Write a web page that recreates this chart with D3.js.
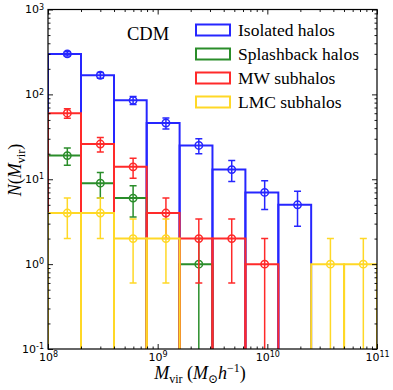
<!DOCTYPE html>
<html>
<head>
<meta charset="utf-8">
<script src="https://cdn.jsdelivr.net/npm/d3@7"></script>
<style>
  body { margin: 0; background: #fff; }
  .serif { font-family: "Liberation Serif", "DejaVu Serif", serif; }
  .tick text { font-family: "DejaVu Sans", sans-serif; }
</style>
</head>
<body>
<div id="chart"></div>
<script>
// bin edges in M_vir, 0.3 dex apart
var binEdges = [1e8, 2e8, 4e8, 7.94e8, 1.585e9, 3.16e9, 6.31e9, 1.26e10, 2.51e10, 5.01e10, 1e11];

// counts per bin
var isolated   = [300, 168, 85, 46, 25, 13, 7, 5, 0, 0];
var splashback = [19, 9, 6, 0, 1, 0, 0, 0, 0, 0];
var mwSub      = [60, 26, 14, 4, 2, 2, 1, 0, 0, 0];
var lmcSub     = [4, 4, 2, 2, 0, 0, 0, 0, 1, 1];

// error bar half-lengths
var isolatedErr   = [17, 13, 9.2, 6.8, 5, 3.6, 2.6, 2.2, 0, 0];
var splashbackErr = [4.4, 3, 2.4, 0, 1, 0, 0, 0, 0, 0];
var mwSubErr      = [7.7, 5.1, 3.7, 2, 1.4, 1.4, 1, 0, 0, 0];
var lmcSubErr     = [2, 2, 1.4, 1.4, 0, 0, 0, 0, 1, 1];

var seriesNames = ["Isolated halos", "Splashback halos", "MW subhalos", "LMC subhalos"];
var seriesColors = ["#2626ff", "#2a8d2a", "#ff2a2a", "#ffd826"];

var xTicks = [1e8, 1e9, 1e10, 1e11];
var yTicks = [0.1, 1, 10, 100, 1000];

var series = [
  { name: seriesNames[0], color: seriesColors[0], values: isolated, err: isolatedErr },
  { name: seriesNames[1], color: seriesColors[1], values: splashback, err: splashbackErr },
  { name: seriesNames[2], color: seriesColors[2], values: mwSub, err: mwSubErr },
  { name: seriesNames[3], color: seriesColors[3], values: lmcSub, err: lmcSubErr }
];

var W = 393, H = 390;
var margin = { top: 9.5, right: 16, bottom: 41, left: 48 };
var width = W - margin.left - margin.right,
    height = H - margin.top - margin.bottom;

var svg = d3.select("#chart").append("svg")
    .attr("width", W)
    .attr("height", H);

var g = svg.append("g")
    .attr("transform", "translate(" + margin.left + "," + margin.top + ")");

var x = d3.scaleLog().domain([1e8, 1e11]).range([0, width]);
var y = d3.scaleLog().domain([0.1, 1000]).range([height, 0]);

g.append("clipPath").attr("id", "clip")
  .append("rect").attr("width", width).attr("height", height);

var plot = g.append("g").attr("clip-path", "url(#clip)");

// bars drawn as outlined rectangles, series in order
series.forEach(function (s) {
  var layer = plot.append("g");
  s.values.forEach(function (v, i) {
    if (v <= 0) return;
    var x0 = x(binEdges[i]), x1 = x(binEdges[i + 1]), yt = y(v);
    layer.append("path")
      .attr("d", "M" + x0 + "," + (height + 5) + "L" + x0 + "," + yt + "L" + x1 + "," + yt + "L" + x1 + "," + (height + 5))
      .attr("fill", "none")
      .attr("stroke", s.color)
      .attr("stroke-width", 2);
  });
  // error bars + open markers at the (linear) bin centre
  s.values.forEach(function (v, i) {
    if (v <= 0) return;
    var cx = x((binEdges[i] + binEdges[i + 1]) / 2);
    var lo = v - s.err[i], hi = v + s.err[i];
    var yLo = lo > 0 ? y(lo) : height + 5;
    layer.append("line")
      .attr("x1", cx).attr("x2", cx)
      .attr("y1", yLo).attr("y2", y(hi))
      .attr("stroke", s.color).attr("stroke-width", 1.5);
    [hi, lo].forEach(function (e) {
      if (e <= 0) return;
      layer.append("line")
        .attr("x1", cx - 3.5).attr("x2", cx + 3.5)
        .attr("y1", y(e)).attr("y2", y(e))
        .attr("stroke", s.color).attr("stroke-width", 1.5);
    });
    layer.append("circle")
      .attr("cx", cx).attr("cy", y(v)).attr("r", 3.7)
      .attr("fill", "none")
      .attr("stroke", s.color).attr("stroke-width", 1.5);
  });
});

// minor ticks
function minorTicks(domain) {
  var out = [];
  for (var e = Math.log10(domain[0]); e < Math.log10(domain[1]); e++) {
    for (var m = 2; m < 10; m++) out.push(m * Math.pow(10, e));
  }
  return out;
}

function supLabels(sel) {
  sel.selectAll(".tick text").each(function (d) {
    var t = d3.select(this);
    var p = Math.round(Math.log10(d));
    t.text("");
    t.append("tspan").text("10");
    t.append("tspan").attr("dy", "-0.45em").attr("font-size", "8px").text(p);
  });
}

function styleAxis(sel) {
  sel.select(".domain").remove();
  sel.selectAll(".tick line").attr("stroke", "#000").attr("stroke-width", 0.9);
}

// bottom
var xb = g.append("g").attr("transform", "translate(0," + height + ")")
  .call(d3.axisBottom(x).tickValues(xTicks).tickSize(-5).tickPadding(4))
  .call(styleAxis);
xb.selectAll(".tick text").attr("font-size", "11px").attr("fill", "#000");
xb.call(supLabels);
g.append("g").attr("transform", "translate(0," + height + ")")
  .call(d3.axisBottom(x).tickValues(minorTicks([1e8, 1e11])).tickSize(-2.5).tickFormat(""))
  .call(styleAxis);

// top
g.append("g").call(d3.axisTop(x).tickValues(xTicks).tickSize(-5).tickFormat("")).call(styleAxis);
g.append("g").call(d3.axisTop(x).tickValues(minorTicks([1e8, 1e11])).tickSize(-2.5).tickFormat("")).call(styleAxis);

// left
var yl = g.append("g")
  .call(d3.axisLeft(y).tickValues(yTicks).tickSize(-5).tickPadding(4))
  .call(styleAxis);
yl.selectAll(".tick text").attr("font-size", "11px").attr("fill", "#000").attr("dy", "0.3em");
yl.call(supLabels);
g.append("g").call(d3.axisLeft(y).tickValues(minorTicks([0.1, 1000])).tickSize(-2.5).tickFormat("")).call(styleAxis);

// right
g.append("g").attr("transform", "translate(" + width + ",0)")
  .call(d3.axisRight(y).tickValues(yTicks).tickSize(-5).tickFormat("")).call(styleAxis);
g.append("g").attr("transform", "translate(" + width + ",0)")
  .call(d3.axisRight(y).tickValues(minorTicks([0.1, 1000])).tickSize(-2.5).tickFormat("")).call(styleAxis);

// frame
g.append("rect").attr("width", width).attr("height", height)
  .attr("fill", "none").attr("stroke", "#000").attr("stroke-width", 1.2);

// CDM label
g.append("text").attr("class", "serif")
  .attr("x", 79).attr("y", 30)
  .attr("font-size", "18.5px")
  .text("CDM");

// legend
var legend = g.append("g").attr("transform", "translate(148,15)");
series.forEach(function (s, i) {
  var row = legend.append("g").attr("transform", "translate(0," + (i * 24) + ")");
  row.append("rect").attr("x", 0).attr("y", 0).attr("width", 34).attr("height", 11)
    .attr("fill", "none").attr("stroke", s.color).attr("stroke-width", 2);
  row.append("text").attr("class", "serif")
    .attr("x", 42).attr("y", 11)
    .attr("font-size", "17.5px")
    .text(s.name);
});

// y label
var yLab = svg.append("text").attr("class", "serif")
  .attr("transform", "translate(21,170) rotate(-90)")
  .attr("text-anchor", "middle")
  .attr("font-size", "18px");
yLab.append("tspan").attr("font-style", "italic").text("N");
yLab.append("tspan").text("(");
yLab.append("tspan").attr("font-style", "italic").text("M");
yLab.append("tspan").attr("font-size", "12px").attr("dy", "4").text("vir");
yLab.append("tspan").attr("dy", "-4").text(")");

// x label
var xLab = svg.append("text").attr("class", "serif")
  .attr("x", 200).attr("y", 379)
  .attr("text-anchor", "middle")
  .attr("font-size", "18px");
xLab.append("tspan").attr("font-style", "italic").text("M");
xLab.append("tspan").attr("font-size", "12px").attr("dy", "4").text("vir");
xLab.append("tspan").attr("dy", "-4").text(" (");
xLab.append("tspan").attr("font-style", "italic").text("M");
xLab.append("tspan").attr("font-size", "12px").attr("dy", "4").text("\u2299");
xLab.append("tspan").attr("dy", "-4").attr("font-style", "italic").text("h");
xLab.append("tspan").attr("font-size", "12px").attr("dy", "-7").text("\u22121");
xLab.append("tspan").attr("dy", "7").text(")");
</script>
</body>
</html>
